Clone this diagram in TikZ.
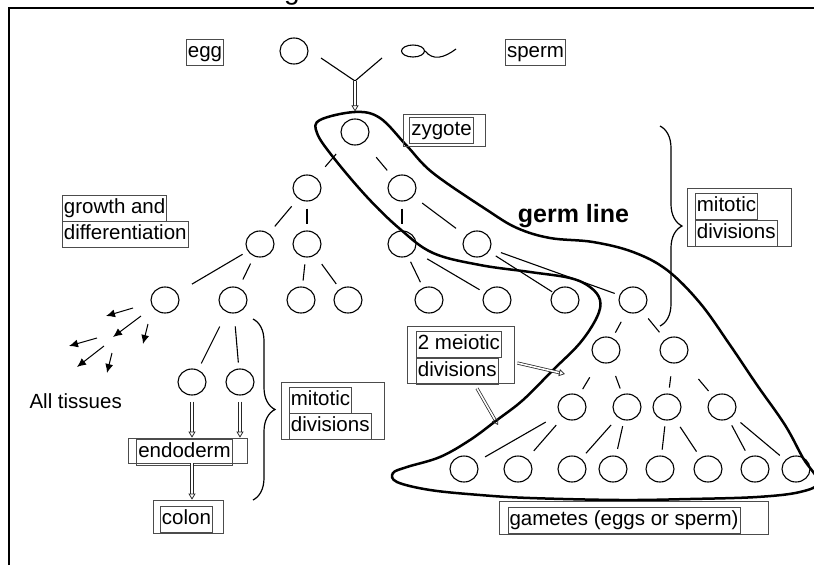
\documentclass[tikz,border=0pt]{standalone}
\usepackage{fontspec}
\setmainfont{Liberation Sans}
\usetikzlibrary{shapes.geometric,arrows.meta,decorations.pathreplacing,positioning}

\begin{document}
\begin{tikzpicture}[x=1pt,y=-1pt,font=\fontsize{20.5}{24}\selectfont,
  cell/.style={ellipse,draw,line width=1.1pt,minimum width=28pt,minimum height=26pt,inner sep=0pt},
  link/.style={line width=1.1pt},
  lbl/.style={draw=black!70,line width=0.8pt,inner xsep=1.5pt,inner ysep=3.2pt,text height=15pt,text depth=4.5pt},
  outer/.style={draw=black!70,line width=0.8pt,inner sep=0pt},
  dblarrow/.style={draw=black!85,double,double distance=1.6pt,line width=0.75pt,-{Triangle[open,length=6pt,width=7pt]}},
  spray/.style={line width=1pt,-{Latex[length=9pt,width=8pt]}},
  curly/.style={decorate,decoration={brace,amplitude=22pt},line width=1.2pt}]
\useasboundingbox (0,0) rectangle (814,565);
\draw[line width=1.5pt] (9,565) -- (9,8) -- (814,8);
\node[anchor=base,inner sep=0pt,font=\fontsize{28}{30}\selectfont] (ttl) at (292,-1) {g};
% egg and sperm
\node[cell] (egg) at (294,51) {};
\node[ellipse,draw,line width=1.1pt,minimum width=23pt,minimum height=12pt,inner sep=0pt] (spm) at (413,51) {};
\draw[link] (spm.east) .. controls (433,61) and (444,58) .. (456,49);
\node[lbl] (egglbl) at (205,52) {egg};
\node[lbl] (spermlbl) at (535.5,52) {sperm};
\coordinate (yl) at (321,58);\coordinate (yr) at (382,58);\coordinate (join) at (355,81);
\draw[link] (yl) -- (join) -- (yr);
% cells of the tree
\node[cell] (z) at (355,132) {};
\foreach \n/\x in {a1/307,a2/402}{\node[cell] (\n) at (\x,188) {};}
\foreach \n/\x in {b1/260,b2/307,b3/402,b4/477}{\node[cell] (\n) at (\x,244) {};}
\foreach \n/\x in {c1/165,c2/233,c3/301,c4/348,c5/429,c6/497,c7/565,c8/633}{\node[cell] (\n) at (\x,300) {};}
\foreach \n/\x in {d1/192,d2/240}{\node[cell] (\n) at (\x,382) {};}
\foreach \n/\x in {m1/606,m2/674}{\node[cell] (\n) at (\x,350) {};}
\foreach \n/\x in {n1/572,n2/627,n3/667,n4/722}{\node[cell] (\n) at (\x,407) {};}
\foreach \n/\x in {g1/464,g2/518,g3/572,g4/613,g5/660,g6/708,g7/755,g8/796}{\node[cell] (\n) at (\x,469) {};}
\foreach \p/\c/\s/\e in {z/a1/15/14,z/a2/19/9,a1/b1/10/9,a1/b2/7/6,a2/b3/7/6,a2/b4/11/12,
    b1/c1/6/17,b1/c2/8/9,b2/c3/7/6,b2/c4/11/6,b3/c5/6/6,b3/c6/15/6,b4/c7/8/1,b4/c8/11/5,
    c2/d1/16/7,c2/d2/13/6,c8/m1/11/6,c8/m2/10/9,m1/n1/18/7,m1/n2/14/6,m2/n3/13/6,m2/n4/24/7,
    n1/g1/16/10,n1/g2/10/10,n2/g3/10/7,n2/g4/6/7,n3/g5/6/6,n3/g6/10/7,n4/g7/7/7,n4/g8/10/7}
  \draw[link,shorten <=\s,shorten >=\e] (\p) -- (\c);
\draw[dblarrow,shorten >=7pt] (join) -- (z);
% germ line
\draw[line width=2.5pt] plot[smooth cycle,tension=0.6] coordinates {(355,112) (380,118) (407,146) (433,173)
  (487,210) (517,228) (550,238) (593,242) (633,252) (667,270) (700,303) (730,345) (757,385) (785,425)
  (803,458) (818,482) (800,492) (757,497) (690,499) (620,500) (530,498) (480,495) (430,490) (397,482)
  (393,473) (407,467) (440,457) (470,440) (497,420) (523,400) (553,370) (580,343) (597,317) (600,300)
  (590,287) (570,278) (530,272) (480,265) (433,253) (400,229) (367,197) (333,157) (317,133) (320,120)};
\node[font=\bfseries\fontsize{25}{30}\selectfont,anchor=base] (germ) at (573.5,222) {germ line};
% labels
\node[outer,minimum width=82pt,minimum height=32pt] (zygbox) at (444,130) {};
\node[lbl] (zyglbl) at (441.5,130.5) {zygote};
\node[lbl,anchor=west] (grow1) at (62,208) {growth and};
\node[lbl,anchor=north west] (grow2) at (grow1.south west) {differentiation};
\node[outer,minimum width=104pt,minimum height=58pt] (mitRbox) at (739,217) {};
\node[lbl,anchor=west] (mitR1) at (695,206.5) {mitotic};
\node[lbl,anchor=north west] (mitR2) at (mitR1.south west) {divisions};
\node[outer,minimum width=107pt,minimum height=57pt] (meiobox) at (460.5,354.5) {};
\node[lbl,anchor=west] (meio1) at (416,344.5) {2 meiotic};
\node[lbl,anchor=north west] (meio2) at (meio1.south west) {divisions};
\node[outer,minimum width=103pt,minimum height=57pt] (mitLbox) at (332.5,410.5) {};
\node[lbl,anchor=west] (mitL1) at (289,400) {mitotic};
\node[lbl,anchor=north west] (mitL2) at (mitL1.south west) {divisions};
\node[anchor=base west] (tissues) at (26,408) {All tissues};
\node[outer,minimum width=119pt,minimum height=25pt] (endobox) at (187.5,450.5) {};
\node[lbl] (endo) at (184.5,452) {endoderm};
\node[outer,minimum width=70pt,minimum height=33pt] (colonbox) at (188,516.5) {};
\node[lbl] (colon) at (186.5,519) {colon};
\node[outer,minimum width=269pt,minimum height=33pt] (gambox) at (633.5,517.5) {};
\node[lbl] (gam) at (624,520) {gametes (eggs or sperm)};
% arrows
\draw[dblarrow,shorten <=6pt] (d1) -- (d1 |- endobox.north);
\draw[dblarrow,shorten <=6pt] (d2) -- (d2 |- endobox.north);
\draw[dblarrow] (d1 |- endobox.south) -- (d1 |- colonbox.north);
\coordinate (mtip1) at (565,374);\coordinate (mtip2) at (498,425);
\draw[dblarrow] ([shift={(3,8.5)}]meiobox.east) -- (mtip1);
\draw[dblarrow] ([shift={(16.5,5)}]meiobox.south) -- (mtip2);
\foreach \a/\b/\c/\d in {133/308/106/316,141/316/113/337,148/324/143/344,97/338/69/346,104/346/77/367,112/353/107/373}
  \draw[spray] (\a,\b) -- (\c,\d);
% braces
\draw[curly] (253,319) -- (253,500);
\draw[curly] (660,126) -- (660,326);
\end{tikzpicture}
\end{document}
